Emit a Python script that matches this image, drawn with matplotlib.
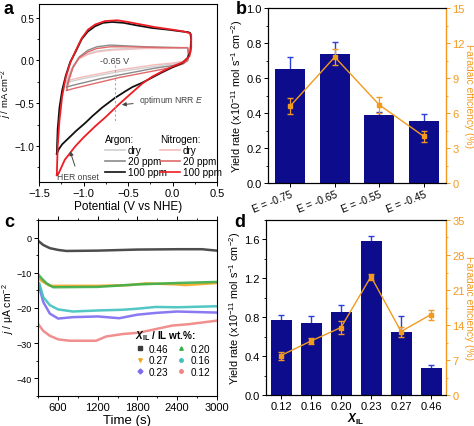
import matplotlib
matplotlib.use("Agg")
import matplotlib.pyplot as plt
from matplotlib.lines import Line2D
from matplotlib.ticker import MultipleLocator

plt.rcParams['font.family'] = ['Liberation Sans', 'DejaVu Sans']
plt.rcParams['mathtext.fontset'] = 'custom'
plt.rcParams['mathtext.rm'] = 'Liberation Sans'
plt.rcParams['mathtext.it'] = 'Liberation Sans:italic'
plt.rcParams['mathtext.bf'] = 'Liberation Sans:bold'
plt.rcParams['mathtext.bfit'] = 'Liberation Sans:bold:italic'
plt.rcParams['font.size'] = 8
plt.rcParams['axes.linewidth'] = 0.8
for ax_ in ('xtick', 'ytick'):
    plt.rcParams[f'{ax_}.major.size'] = 3
    plt.rcParams[f'{ax_}.minor.size'] = 1.6
    plt.rcParams[f'{ax_}.major.pad'] = 1.5
    plt.rcParams[f'{ax_}.major.width'] = 0.7
    plt.rcParams[f'{ax_}.minor.width'] = 0.6

# ---------------- Panel a: CV curves ----------------
ar100_x = [-1.30, -1.29, -1.27, -1.24, -1.20, -1.15, -1.09, -1.02, -0.95, -0.87, -0.78, -0.68, -0.55, -0.40,
           -0.23, -0.05, 0.10, 0.18, 0.20, 0.21, 0.20, 0.17, 0.11, 0.00, -0.12, -0.23, -0.34, -0.45, -0.53,
           -0.65, -0.79, -0.90, -0.98, -1.08, -1.17, -1.24, -1.28, -1.30]
ar100_y = [-1.09, -0.80, -0.55, -0.35, -0.18, -0.02, 0.10, 0.25, 0.34, 0.40, 0.44, 0.45, 0.44, 0.41,
           0.38, 0.36, 0.34, 0.33, 0.32, 0.25, 0.10, 0.03, -0.03, -0.08, -0.14, -0.20, -0.26, -0.31, -0.36,
           -0.44, -0.55, -0.65, -0.73, -0.82, -0.91, -0.98, -1.04, -1.09]
n2100_x = [-1.30, -1.29, -1.27, -1.24, -1.20, -1.15, -1.09, -1.02, -0.95, -0.87, -0.76, -0.62, -0.50, -0.35,
           -0.20, 0.00, 0.12, 0.19, 0.21, 0.21, 0.19, 0.12, 0.00, -0.12, -0.23, -0.34, -0.46, -0.61, -0.75,
           -0.87, -1.00, -1.09, -1.21, -1.28, -1.30]
n2100_y = [-1.34, -1.00, -0.70, -0.42, -0.20, -0.03, 0.11, 0.26, 0.36, 0.42, 0.46, 0.47, 0.45, 0.42,
           0.39, 0.36, 0.34, 0.32, 0.30, 0.15, 0.05, -0.02, -0.07, -0.13, -0.19, -0.27, -0.38, -0.52, -0.66,
           -0.77, -0.90, -1.00, -1.16, -1.32, -1.34]
small_x = [-1.19, -1.16, -1.12, -1.05, -0.95, -0.85, -0.70, -0.50, -0.30, -0.10, 0.10, 0.17, 0.18, 0.17,
           0.12, 0.00, -0.20, -0.40, -0.60, -0.80, -1.00, -1.12, -1.19]
ardry_y = [-0.26, -0.17, -0.07, 0.03, 0.08, 0.11, 0.13, 0.14, 0.145, 0.145, 0.145, 0.145, 0.08, 0.00,
           -0.02, -0.04, -0.07, -0.10, -0.13, -0.17, -0.21, -0.24, -0.26]
ar20_y = [-0.31, -0.20, -0.08, 0.04, 0.12, 0.16, 0.18, 0.17, 0.16, 0.155, 0.15, 0.15, 0.08, 0.00,
          -0.03, -0.06, -0.09, -0.13, -0.17, -0.21, -0.26, -0.29, -0.31]
n2dry_y = [-0.24, -0.16, -0.07, 0.02, 0.07, 0.10, 0.12, 0.13, 0.14, 0.14, 0.145, 0.145, 0.08, 0.00,
           -0.01, -0.03, -0.05, -0.08, -0.11, -0.15, -0.19, -0.22, -0.24]
n220_y = [-0.35, -0.22, -0.09, 0.03, 0.10, 0.14, 0.16, 0.16, 0.155, 0.15, 0.15, 0.15, 0.08, 0.00,
          -0.04, -0.08, -0.12, -0.16, -0.20, -0.25, -0.30, -0.33, -0.35]

# ---------------- Panel b ----------------
b_labels = ['E = -0.75', 'E = -0.65', 'E = -0.55', 'E = -0.45']
b_yield = [0.65, 0.735, 0.386, 0.355]
b_yield_err = [0.07, 0.068, 0.02, 0.037]
b_fe = [6.6, 10.8, 6.7, 4.0]
b_fe_err = [0.7, 0.7, 0.7, 0.45]

# ---------------- Panel c ----------------
c_labels = ['0.46', '0.27', '0.23', '0.20', '0.16', '0.12']
c_t = {
    '0.46': [300, 375, 475, 600, 725, 1200, 1800, 2400, 2775, 3000],
    '0.27': [300, 375, 475, 600, 1200, 1675, 1925, 2400, 2525, 3000],
    '0.20': [300, 350, 425, 525, 1200, 1800, 2400, 3000],
    '0.16': [315, 375, 475, 600, 825, 1200, 1575, 1800, 2075, 2400, 3000],
    '0.23': [315, 375, 475, 600, 825, 1200, 1525, 1800, 2075, 2400, 3000],
    '0.12': [300, 375, 475, 600, 775, 1175, 1325, 1575, 1825, 2075, 2325, 2575, 3000],
}
c_j = {
    '0.46': [-0.95, -2.1, -3.0, -3.5, -3.8, -3.7, -3.4, -3.3, -3.3, -3.7],
    '0.27': [-11.6, -12.6, -13.7, -13.7, -13.7, -13.5, -13.0, -13.3, -13.5, -12.9],
    '0.20': [-10.5, -11.6, -13.0, -14.1, -14.0, -13.3, -12.9, -12.6],
    '0.16': [-13.0, -16.9, -19.2, -20.4, -21.0, -20.7, -20.5, -20.2, -19.7, -19.8, -19.5],
    '0.23': [-14.0, -18.3, -21.6, -23.0, -22.6, -22.4, -22.9, -21.9, -21.4, -21.0, -21.3],
    '0.12': [-24.6, -26.5, -27.9, -28.9, -29.3, -29.3, -28.1, -27.4, -27.0, -26.0, -25.0, -24.6, -23.6],
}
c_colors = {'0.46': '#3a3a3a', '0.27': '#f5a623', '0.23': '#7d6cf0',
            '0.20': '#3aae4a', '0.16': '#3fc1bd', '0.12': '#f08383'}
c_markers = {'0.46': 's', '0.27': 'v', '0.23': 'D', '0.20': '^', '0.16': 'o', '0.12': 'o'}

# ---------------- Panel d ----------------
d_labels = ['0.12', '0.16', '0.20', '0.23', '0.27', '0.46']
d_yield = [0.77, 0.74, 0.85, 1.58, 0.65, 0.28]
d_yield_err = [0.05, 0.07, 0.08, 0.06, 0.16, 0.03]
d_fe = [7.9, 10.8, 13.5, 23.7, 12.7, 16.1]
d_fe_err = [0.8, 0.6, 1.3, 0.6, 1.0, 1.0]

BAR = '#0c0c8c'
BARERR = '#2a40d8'
ORANGE = '#f29a1f'
TICKFS = 8
YL = r'Yield rate (x10$^{-11}$ mol s$^{-1}$ cm$^{-2}$)'
FEL = 'Faradaic efficiency (%)'

W, H = 474, 427
fig = plt.figure(figsize=(W / 100, H / 100), dpi=100)


def box(l, t, r, b):
    return [l / W, 1 - b / H, (r - l) / W, (b - t) / H]


# ---- a ----
axa = fig.add_axes(box(39, 5, 217, 183))
axa.plot(small_x, ardry_y, color='#cfcfcf', lw=1.0)
axa.plot(small_x, n2dry_y, color='#f5bcbc', lw=1.0)
axa.plot(small_x, ar20_y, color='#8a8a8a', lw=1.0)
axa.plot(small_x, n220_y, color='#e06a6a', lw=1.0)
axa.plot(ar100_x, ar100_y, color='#111111', lw=1.3)
axa.plot(n2100_x, n2100_y, color='#ee1c24', lw=1.3)
axa.set_xlim(-1.5, 0.5)
axa.set_ylim(-1.42, 0.66)
axa.xaxis.set_major_locator(MultipleLocator(0.5))
axa.yaxis.set_major_locator(MultipleLocator(0.5))
axa.xaxis.set_minor_locator(MultipleLocator(0.25))
axa.yaxis.set_minor_locator(MultipleLocator(0.25))
axa.tick_params(axis='x', labelsize=TICKFS)
axa.tick_params(axis='y', labelsize=7.2, pad=1, length=2.5)
axa.set_xlabel('Potential (V vs NHE)', fontsize=8.5, labelpad=1)
axa.set_ylabel(r'$j$ / mA cm$^{-2}$', fontsize=6.8, va='center')
axa.yaxis.set_label_coords(-0.185, 0.5)
axa.plot([-0.65, -0.65], [-0.05, -0.73], ls=(0, (2, 2)), color='#aaaaaa', lw=0.8)
axa.text(-0.65, 0.0, '-0.65 V', ha='center', va='center', fontsize=6.5, color='#444444')
axa.annotate('optimum NRR $E$', xy=(-0.60, -0.52), xytext=(-0.38, -0.46), fontsize=6.2,
             color='#444444', va='center', ha='left',
             arrowprops=dict(arrowstyle='-|>', color='#444444', lw=0.7, mutation_scale=6))
axa.annotate('HER onset', xy=(-1.16, -1.03), xytext=(-1.06, -1.35), fontsize=6.2,
             color='#444444', va='center', ha='center',
             arrowprops=dict(arrowstyle='-|>', color='#444444', lw=0.7, mutation_scale=6))
h_ar = [Line2D([], [], color=c, lw=1.2) for c in ['#cfcfcf', '#8a8a8a', '#111111']]
h_n2 = [Line2D([], [], color=c, lw=1.2) for c in ['#f5bcbc', '#e06a6a', '#ee1c24']]
labs = ['dry', '20 ppm', '100 ppm']
lg_kw = dict(frameon=False, fontsize=7.2, title_fontsize=7.2, handlelength=2.0,
             handletextpad=0.3, labelspacing=0.1, borderpad=0, alignment='left', loc='upper left')
lg1 = axa.legend(h_ar, labs, title='Argon:', bbox_to_anchor=(0.34, 0.295), **lg_kw)
axa.add_artist(lg1)
axa.legend(h_n2, labs, title='Nitrogen:', bbox_to_anchor=(0.65, 0.295), **lg_kw)

# ---- b ----
axb = fig.add_axes(box(268, 9, 446, 184))
xb = list(range(1, len(b_labels) + 1))
axb.errorbar(xb, b_yield, yerr=b_yield_err, fmt='none', ecolor=BARERR, elinewidth=1.0,
             capsize=2.5, zorder=1)
axb.bar(xb, b_yield, width=0.67, color=BAR, zorder=2)
axb.set_xlim(0.5, 4.5)
axb.set_ylim(0, 1.0)
axb.yaxis.set_major_locator(MultipleLocator(0.2))
axb.yaxis.set_minor_locator(MultipleLocator(0.1))
axb.set_xticks(xb)
axb.set_xticklabels(b_labels, rotation=22, ha='right', rotation_mode='anchor', fontsize=7.5)
axb.tick_params(axis='y', labelsize=TICKFS)
axb.set_ylabel(YL, fontsize=7.8, labelpad=1)
axb2 = axb.twinx()
axb2.errorbar(xb, b_fe, yerr=b_fe_err, color=ORANGE, marker='s', ms=3, lw=1.0,
              elinewidth=0.9, capsize=2, zorder=3)
axb2.set_ylim(0, 15)
axb2.yaxis.set_major_locator(MultipleLocator(3))
axb2.yaxis.set_minor_locator(MultipleLocator(1.5))
axb2.tick_params(axis='y', colors=ORANGE, which='both', labelsize=TICKFS)
axb2.spines['right'].set_color(ORANGE)
axb2.set_ylabel(FEL, color=ORANGE, rotation=270, fontsize=7.4, va='center', ha='center')
axb2.yaxis.set_label_coords(1.128, 0.5)

# ---- c ----
axc = fig.add_axes(box(38.3, 221, 216.7, 397))
for k in c_labels:
    axc.plot(c_t[k], c_j[k], color=c_colors[k], lw=1.8, alpha=0.9)
axc.set_xlim(300, 3000)
axc.set_ylim(-45, 5)
axc.xaxis.set_major_locator(MultipleLocator(600))
axc.xaxis.set_minor_locator(MultipleLocator(300))
axc.yaxis.set_major_locator(MultipleLocator(10))
axc.yaxis.set_minor_locator(MultipleLocator(5))
axc.tick_params(axis='x', labelsize=TICKFS, top=True, which='both')
axc.tick_params(axis='y', labelsize=6.5)
axc.set_xlabel('Time (s)', fontsize=9.5, labelpad=1)
axc.set_ylabel(r'$j$ / μA cm$^{-2}$', fontsize=7.5, va='center')
axc.yaxis.set_label_coords(-0.17, 0.5)
hc = [Line2D([], [], ls='none', marker=c_markers[k], color=c_colors[k], ms=2.5) for k in c_labels]
axc.legend(hc, c_labels, title=r'$\mathbfit{X}_{\mathbf{IL}}$ / IL wt.%:', ncol=2, loc='lower right',
           bbox_to_anchor=(0.99, 0.08), frameon=False, fontsize=7.2, title_fontsize=7.2,
           handlelength=1.0, handletextpad=0.4, columnspacing=0.8, labelspacing=0.15,
           borderpad=0, alignment='left')
axc.get_legend().get_title().set_fontweight('bold')

# ---- d ----
axd = fig.add_axes(box(266, 221, 446, 396))
xd = list(range(len(d_labels)))
axd.errorbar(xd, d_yield, yerr=d_yield_err, fmt='none', ecolor=BARERR, elinewidth=1.0,
             capsize=2.5, zorder=1)
axd.bar(xd, d_yield, width=0.7, color=BAR, zorder=2)
axd.set_xlim(-0.5, 5.5)
axd.set_ylim(0, 1.8)
axd.yaxis.set_major_locator(MultipleLocator(0.4))
axd.yaxis.set_minor_locator(MultipleLocator(0.2))
axd.set_xticks(xd)
axd.set_xticklabels(d_labels)
axd.tick_params(labelsize=TICKFS)
axd.set_xlabel(r'$\mathbfit{X}_{\mathbf{IL}}$', fontsize=8.5, labelpad=0)
axd.set_ylabel(YL, fontsize=7.8, labelpad=1)
axd2 = axd.twinx()
axd2.errorbar(xd, d_fe, yerr=d_fe_err, color=ORANGE, marker='s', ms=3, lw=1.0,
              elinewidth=0.9, capsize=2, zorder=3)
axd2.set_ylim(0, 35)
axd2.yaxis.set_major_locator(MultipleLocator(7))
axd2.yaxis.set_minor_locator(MultipleLocator(3.5))
axd2.tick_params(axis='y', colors=ORANGE, which='both', labelsize=TICKFS)
axd2.spines['right'].set_color(ORANGE)
axd2.set_ylabel(FEL, color=ORANGE, rotation=270, fontsize=7.4, va='center', ha='center')
axd2.yaxis.set_label_coords(1.127, 0.5)

# panel letters
for s, x, y in [('a', 4, 1), ('b', 236, 1), ('c', 4, 214), ('d', 234, 214)]:
    fig.text(x / W, 1 - y / H, s, fontsize=13, fontweight='bold', va='top', ha='left')

fig.savefig('out.png', dpi=100)
